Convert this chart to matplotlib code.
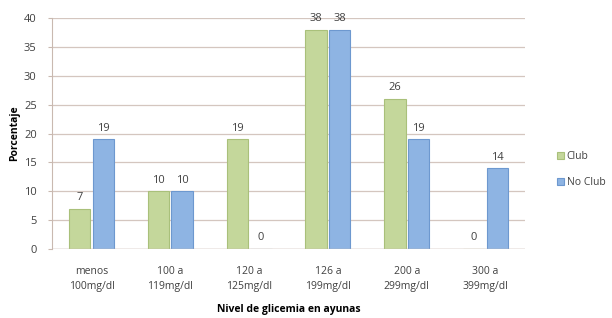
import numpy as np
import matplotlib.pyplot as plt

plt.rcParams['font.family'] = ['Open Sans', 'DejaVu Sans']

categorias = ['menos\n100mg/dl', '100 a\n119mg/dl', '120 a\n125mg/dl',
              '126 a\n199mg/dl', '200 a\n299mg/dl', '300 a\n399mg/dl']
club = [7, 10, 19, 38, 26, 0]
no_club = [19, 10, 0, 38, 19, 14]

fig = plt.figure(figsize=(6.12, 3.18), dpi=100)
ax = fig.add_axes([52/612, 1 - 249/318, 473/612, 231/318])

x = np.arange(len(categorias))
w = 0.27
b1 = ax.bar(x - w/2 - 0.015, club, w, color='#c4d79b', edgecolor='#a9c07a', linewidth=0.8, label='Club', zorder=3)
b2 = ax.bar(x + w/2 + 0.015, no_club, w, color='#8eb4e3', edgecolor='#6d98cf', linewidth=0.8, label='No Club', zorder=3)

for bars, vals in [(b1, club), (b2, no_club)]:
    for rect, v in zip(bars, vals):
        ax.annotate(str(v), (rect.get_x() + rect.get_width()/2, v), xytext=(0, 4),
                    textcoords='offset points', ha='center', va='bottom',
                    fontsize=8, color='#404040', annotation_clip=False)

ax.set_xlim(-0.5, len(categorias) - 0.5)
ax.set_ylim(0, 40)
ax.set_yticks(range(0, 41, 5))
ax.set_xticks(x)
ax.set_xticklabels(categorias, fontsize=7.5, color='#404040', linespacing=1.5)
ax.tick_params(axis='y', labelsize=8, labelcolor='#404040', length=3, pad=8, color='#c9b9b0')
ax.tick_params(axis='x', length=0, pad=12)
ax.grid(axis='y', color='#d4c6bf', linewidth=0.9, zorder=0)
for s in ['top', 'right', 'bottom']:
    ax.spines[s].set_visible(False)
ax.spines['left'].set_color('#c9b9b0')
ax.axhline(0, color='#c9b9b0', linewidth=1, zorder=4)

ax.set_xlabel('Nivel de glicemia en ayunas', fontsize=7.5, fontweight='bold', labelpad=9)
ax.set_ylabel('Porcentaje', fontsize=7.5, fontweight='bold', labelpad=3)

fig.legend(handles=[b1, b2], loc='upper left', bbox_to_anchor=(548/612, 1 - 142/318),
           frameon=False, fontsize=7.5, handlelength=0.6, handleheight=0.6,
           handletextpad=0.3, labelspacing=1.4, labelcolor='#404040')

fig.savefig('out.png', dpi=100)
